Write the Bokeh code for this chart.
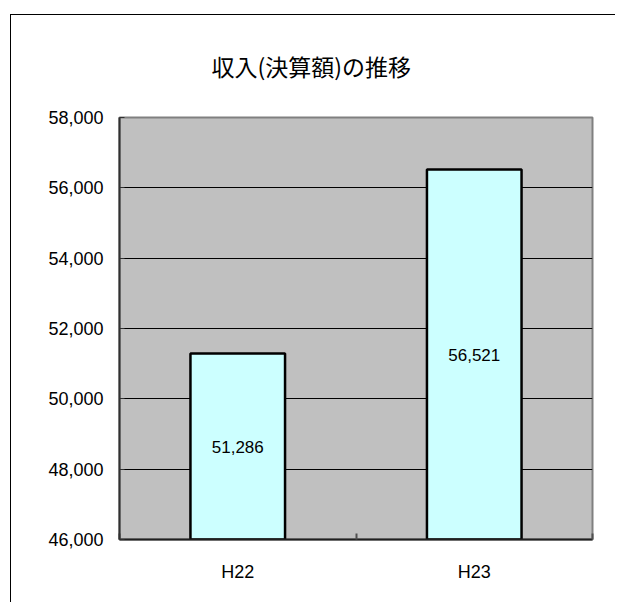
from bokeh.plotting import figure
from bokeh.models import (Range1d, FixedTicker, NumeralTickFormatter,
                          LinearAxis, Grid, ColumnDataSource)
from bokeh.core.properties import value
from bokeh.embed import file_html
from bokeh.resources import INLINE

# Revenue (settled amount) by fiscal year
categories = ["H22", "H23"]
revenue = [51286, 56521]
y_ticks = [46000, 48000, 50000, 52000, 54000, 56000, 58000]
title_text = "収入(決算額)の推移"

W, H = 617, 604
BOX_L, BOX_T = 10, 14          # chart-area border position on the page
BORDER = 1.5
FRAME_L, FRAME_R, FRAME_T, FRAME_B = 119, 593, 117, 539

CW = W - BOX_L - 2
CH = H - BOX_T - 2
OX, OY = BOX_L + BORDER, BOX_T + BORDER   # canvas origin on the page

p = figure(width=CW, height=CH, output_backend="svg", toolbar_location=None,
           x_range=Range1d(0, len(categories)),
           y_range=Range1d(y_ticks[0], y_ticks[-1]),
           x_axis_location=None, y_axis_location=None,
           min_border_left=round(FRAME_L - OX), min_border_right=round(OX + CW - FRAME_R),
           min_border_top=round(FRAME_T - OY), min_border_bottom=round(OY + CH - FRAME_B))
p.margin = (BOX_T, 0, 0, BOX_L)
p.styles = {"border-left": f"{BORDER}px solid black",
            "border-top": f"{BORDER}px solid black"}
p.background_fill_color = "#C0C0C0"
p.border_fill_color = "white"
p.outline_line_color = "#808080"
p.outline_line_width = 2

# drop the default grids; a black value grid is added below
p.center = [r for r in p.center if not isinstance(r, Grid)]

# chart title
p.title.text = title_text
p.title.align = "left"
p.title.vertical_align = "top"
p.title.offset = 92
p.title.text_font = "Noto Sans CJK JP"
p.title.text_font_size = "23px"
p.title.text_font_style = "normal"
p.title.text_color = "black"
p.title.standoff = 66

# value axis
yaxis = LinearAxis(ticker=FixedTicker(ticks=y_ticks),
                   formatter=NumeralTickFormatter(format="0,0"))
yaxis.axis_line_color = "#303030"
yaxis.axis_line_width = 2
yaxis.major_tick_in = 5
yaxis.major_tick_out = 0
yaxis.major_tick_line_color = "#303030"
yaxis.minor_tick_in = 0
yaxis.minor_tick_out = 0
yaxis.major_label_standoff = 16
yaxis.major_label_text_font = "Liberation Sans"
yaxis.major_label_text_font_size = "18px"
yaxis.major_label_text_color = "black"
p.add_layout(yaxis, "left")

# category axis: labels at bar centres, ticks at category boundaries
centers = [i + 0.5 for i in range(len(categories))]
bounds = [float(i) for i in range(len(categories) + 1)]
xaxis = LinearAxis(ticker=FixedTicker(ticks=centers, minor_ticks=bounds),
                   major_label_overrides={c: lab for c, lab in zip(centers, categories)})
xaxis.axis_line_color = "#202020"
xaxis.axis_line_width = 2
xaxis.major_tick_in = 0
xaxis.major_tick_out = 0
xaxis.minor_tick_in = 6
xaxis.minor_tick_out = 0
xaxis.minor_tick_line_color = "#505050"
xaxis.minor_tick_line_width = 2
xaxis.major_label_standoff = 22
xaxis.major_label_text_font = "Liberation Sans"
xaxis.major_label_text_font_size = "18px"
xaxis.major_label_text_color = "black"
p.add_layout(xaxis, "below")

p.add_layout(Grid(dimension=1, ticker=yaxis.ticker,
                  grid_line_color="black", grid_line_width=1))

src = ColumnDataSource(dict(
    x=centers,
    top=revenue,
    mid=[(v + y_ticks[0]) / 2 for v in revenue],
    label=[f"{v:,}" for v in revenue],
))
p.vbar(x="x", top="top", bottom=y_ticks[0], width=0.4, source=src,
       fill_color="#CCFFFF", line_color="black", line_width=2.5)
p.text(x="x", y="mid", text="label", source=src,
       text_align="center", text_baseline="middle",
       text_font=value("Liberation Sans"), text_font_size="17px",
       text_color="black")

open("out.html", "w").write(file_html(p, INLINE))
